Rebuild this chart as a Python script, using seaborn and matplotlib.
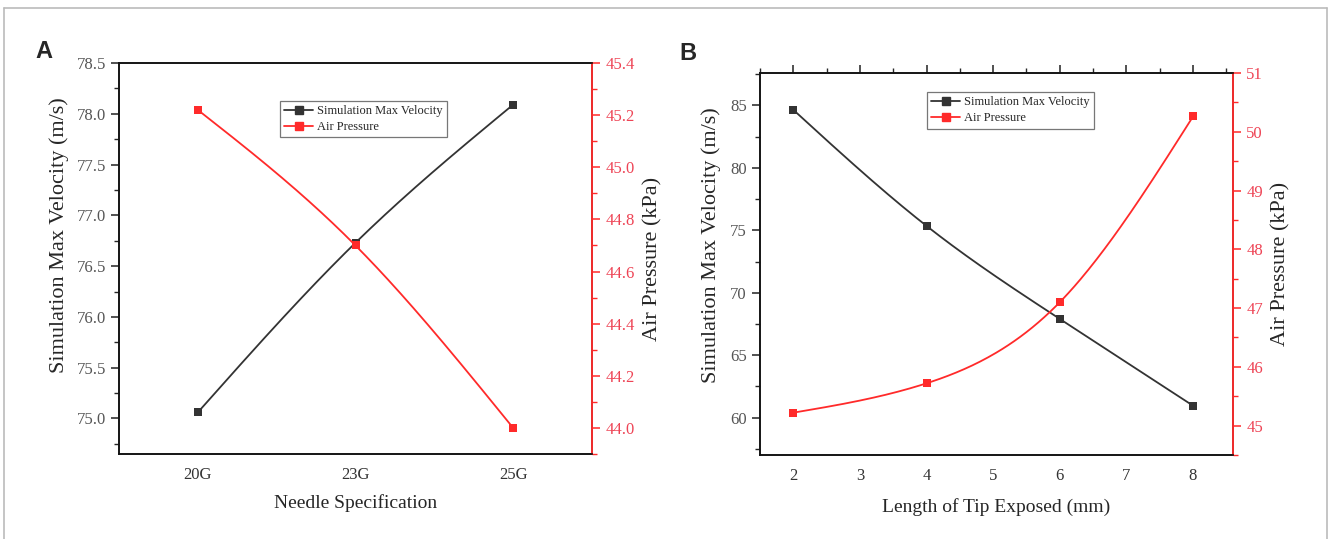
import numpy as np
import pandas as pd
import matplotlib.pyplot as plt
import matplotlib.ticker as ticker
from matplotlib.lines import Line2D
import seaborn as sns

# Panel A data
needles = ["20G", "23G", "25G"]
vel_a = [75.06, 76.73, 78.09]
press_a = [45.22, 44.70, 44.00]

# Panel B data
tip_len = [2, 4, 6, 8]
vel_b = [84.65, 75.35, 67.90, 60.95]
press_b = [45.22, 45.72, 47.10, 50.26]

BLACK = "#333333"
RED = "#ff2a2a"
TICK_RED = "#ee4455"


def smooth(x, y, n=200):
    # natural cubic spline through the points, used only to draw the connecting curve
    x = np.asarray(x, float)
    y = np.asarray(y, float)
    k = len(x)
    h = np.diff(x)
    A = np.zeros((k, k))
    b = np.zeros(k)
    A[0, 0] = A[-1, -1] = 1
    for i in range(1, k - 1):
        A[i, i - 1] = h[i - 1]
        A[i, i] = 2 * (h[i - 1] + h[i])
        A[i, i + 1] = h[i]
        b[i] = 6 * ((y[i + 1] - y[i]) / h[i] - (y[i] - y[i - 1]) / h[i - 1])
    m = np.linalg.solve(A, b)
    xs = np.linspace(x[0], x[-1], n)
    idx = np.clip(np.searchsorted(x, xs) - 1, 0, k - 2)
    x0, x1 = x[idx], x[idx + 1]
    hh = x1 - x0
    t0, t1 = x1 - xs, xs - x0
    ys = (m[idx] * t0 ** 3 + m[idx + 1] * t1 ** 3) / (6 * hh) \
        + (y[idx] / hh - m[idx] * hh / 6) * t0 + (y[idx + 1] / hh - m[idx + 1] * hh / 6) * t1
    return xs, ys


sns.set_style("white")
plt.rcParams['font.family'] = ['Liberation Serif', 'DejaVu Serif']
plt.rcParams['axes.linewidth'] = 1.2

fig = plt.figure(figsize=(13.28, 5.39), dpi=100)

# thin grey frame round the figure
fig.add_artist(Line2D([4 / 1328, 4 / 1328], [0, 1 - 8 / 539], transform=fig.transFigure, color="#bbbbbb", lw=1.2))
fig.add_artist(Line2D([4 / 1328, 1327 / 1328], [1 - 8 / 539, 1 - 8 / 539], transform=fig.transFigure, color="#bbbbbb", lw=1.2))
fig.add_artist(Line2D([1327 / 1328, 1327 / 1328], [0, 1 - 8 / 539], transform=fig.transFigure, color="#bbbbbb", lw=1.2))


def style_axes(ax, ax2):
    ax.tick_params(axis='both', which='major', direction='out', length=6, width=1.1,
                   labelsize=12, colors="#222222")
    ax.tick_params(axis='y', labelcolor="#555555")
    ax.tick_params(axis='x', labelcolor="#333333")
    ax.tick_params(axis='both', which='minor', direction='out', length=3.5, width=1.0)
    ax2.tick_params(axis='y', which='major', direction='out', length=6, width=1.1,
                    colors=RED, labelcolor=TICK_RED, labelsize=12)
    ax2.tick_params(axis='y', which='minor', direction='out', length=3.5, width=1.0, colors=RED)
    ax2.spines['right'].set_color(RED)
    ax2.spines['right'].set_linewidth(1.3)
    for sp in ['left', 'top', 'bottom']:
        ax2.spines[sp].set_color("#111111")
    ax.grid(False)
    ax2.grid(False)


def add_legend(ax2, anchor):
    handles = [
        Line2D([], [], color=BLACK, marker='s', markersize=6, lw=1.3, label="Simulation Max Velocity"),
        Line2D([], [], color=RED, marker='s', markersize=6, lw=1.3, label="Air Pressure"),
    ]
    leg = ax2.legend(handles=handles, loc='upper left', bbox_to_anchor=anchor, fontsize=9,
                     frameon=True, fancybox=False, edgecolor="#777777", framealpha=1,
                     handlelength=2.3, handletextpad=0.3, borderpad=0.35, labelspacing=0.3,
                     borderaxespad=0)
    leg.get_frame().set_linewidth(0.9)


# ---- Panel A ----
axA = fig.add_axes([119 / 1328, 1 - 454 / 539, 473 / 1328, 391 / 539])
axA2 = axA.twinx()
xa = np.arange(len(needles))

sx, sy = smooth(xa, vel_a)
sns.lineplot(x=sx, y=sy, ax=axA, color=BLACK, lw=1.3, sort=False)
sns.scatterplot(x=xa, y=vel_a, ax=axA, color=BLACK, marker='s', s=40, edgecolor=BLACK, linewidth=0, zorder=3)
sx, sy = smooth(xa, press_a)
sns.lineplot(x=sx, y=sy, ax=axA2, color=RED, lw=1.3, sort=False)
sns.scatterplot(x=xa, y=press_a, ax=axA2, color=RED, marker='s', s=40, edgecolor=RED, linewidth=0, zorder=3)

axA.set_xlim(-0.5, 2.5)
axA.set_ylim(74.65, 78.5)
axA2.set_ylim(43.9, 45.4)
axA.set_xticks(xa)
axA.set_xticklabels(needles)
axA.xaxis.set_minor_locator(ticker.FixedLocator([-0.5, 0.5, 1.5, 2.5]))
axA.yaxis.set_major_locator(ticker.MultipleLocator(0.5))
axA.yaxis.set_minor_locator(ticker.MultipleLocator(0.25))
axA.yaxis.set_major_formatter(ticker.FormatStrFormatter('%.1f'))
axA2.yaxis.set_major_locator(ticker.MultipleLocator(0.2))
axA2.yaxis.set_minor_locator(ticker.MultipleLocator(0.1))
axA2.yaxis.set_major_formatter(ticker.FormatStrFormatter('%.1f'))
style_axes(axA, axA2)
axA.set_xlabel("Needle Specification", fontsize=14, labelpad=8)
axA.set_ylabel("Simulation Max Velocity (m/s)", fontsize=16)
axA.yaxis.set_label_coords(-0.106, 0.56)
axA2.set_ylabel("Air Pressure (kPa)", fontsize=16, labelpad=6)
add_legend(axA2, (0.34, 0.903))

# ---- Panel B ----
axB = fig.add_axes([760 / 1328, 1 - 455 / 539, 473 / 1328, 382 / 539])
axB2 = axB.twinx()

sx, sy = smooth(tip_len, vel_b)
sns.lineplot(x=sx, y=sy, ax=axB, color=BLACK, lw=1.3, sort=False)
sns.scatterplot(x=tip_len, y=vel_b, ax=axB, color=BLACK, marker='s', s=40, edgecolor=BLACK, linewidth=0, zorder=3)
sx, sy = smooth(tip_len, press_b)
sns.lineplot(x=sx, y=sy, ax=axB2, color=RED, lw=1.3, sort=False)
sns.scatterplot(x=tip_len, y=press_b, ax=axB2, color=RED, marker='s', s=40, edgecolor=RED, linewidth=0, zorder=3)

axB.set_xlim(1.5, 8.6)
axB.set_ylim(57.0, 87.6)
axB2.set_ylim(44.5, 51)
axB.xaxis.set_major_locator(ticker.MultipleLocator(1))
axB.xaxis.set_minor_locator(ticker.MultipleLocator(0.5))
axB.yaxis.set_major_locator(ticker.MultipleLocator(5))
axB.yaxis.set_minor_locator(ticker.MultipleLocator(2.5))
axB2.yaxis.set_major_locator(ticker.MultipleLocator(1))
axB2.yaxis.set_minor_locator(ticker.MultipleLocator(0.5))
style_axes(axB, axB2)
axB.tick_params(axis='x', which='both', top=True)
axB.set_xlabel("Length of Tip Exposed (mm)", fontsize=14, labelpad=10)
axB.set_ylabel("Simulation Max Velocity (m/s)", fontsize=16)
axB.yaxis.set_label_coords(-0.082, 0.55)
axB2.set_ylabel("Air Pressure (kPa)", fontsize=16, labelpad=6)
add_legend(axB2, (0.353, 0.95))

# panel letters
fig.text(44 / 1328, 1 - 52 / 539, "A", fontsize=17, fontweight='bold', family='Liberation Sans',
         ha='center', va='center')
fig.text(688 / 1328, 1 - 54 / 539, "B", fontsize=17, fontweight='bold', family='Liberation Sans',
         ha='center', va='center')

fig.savefig("out.png", dpi=100, facecolor='white')
